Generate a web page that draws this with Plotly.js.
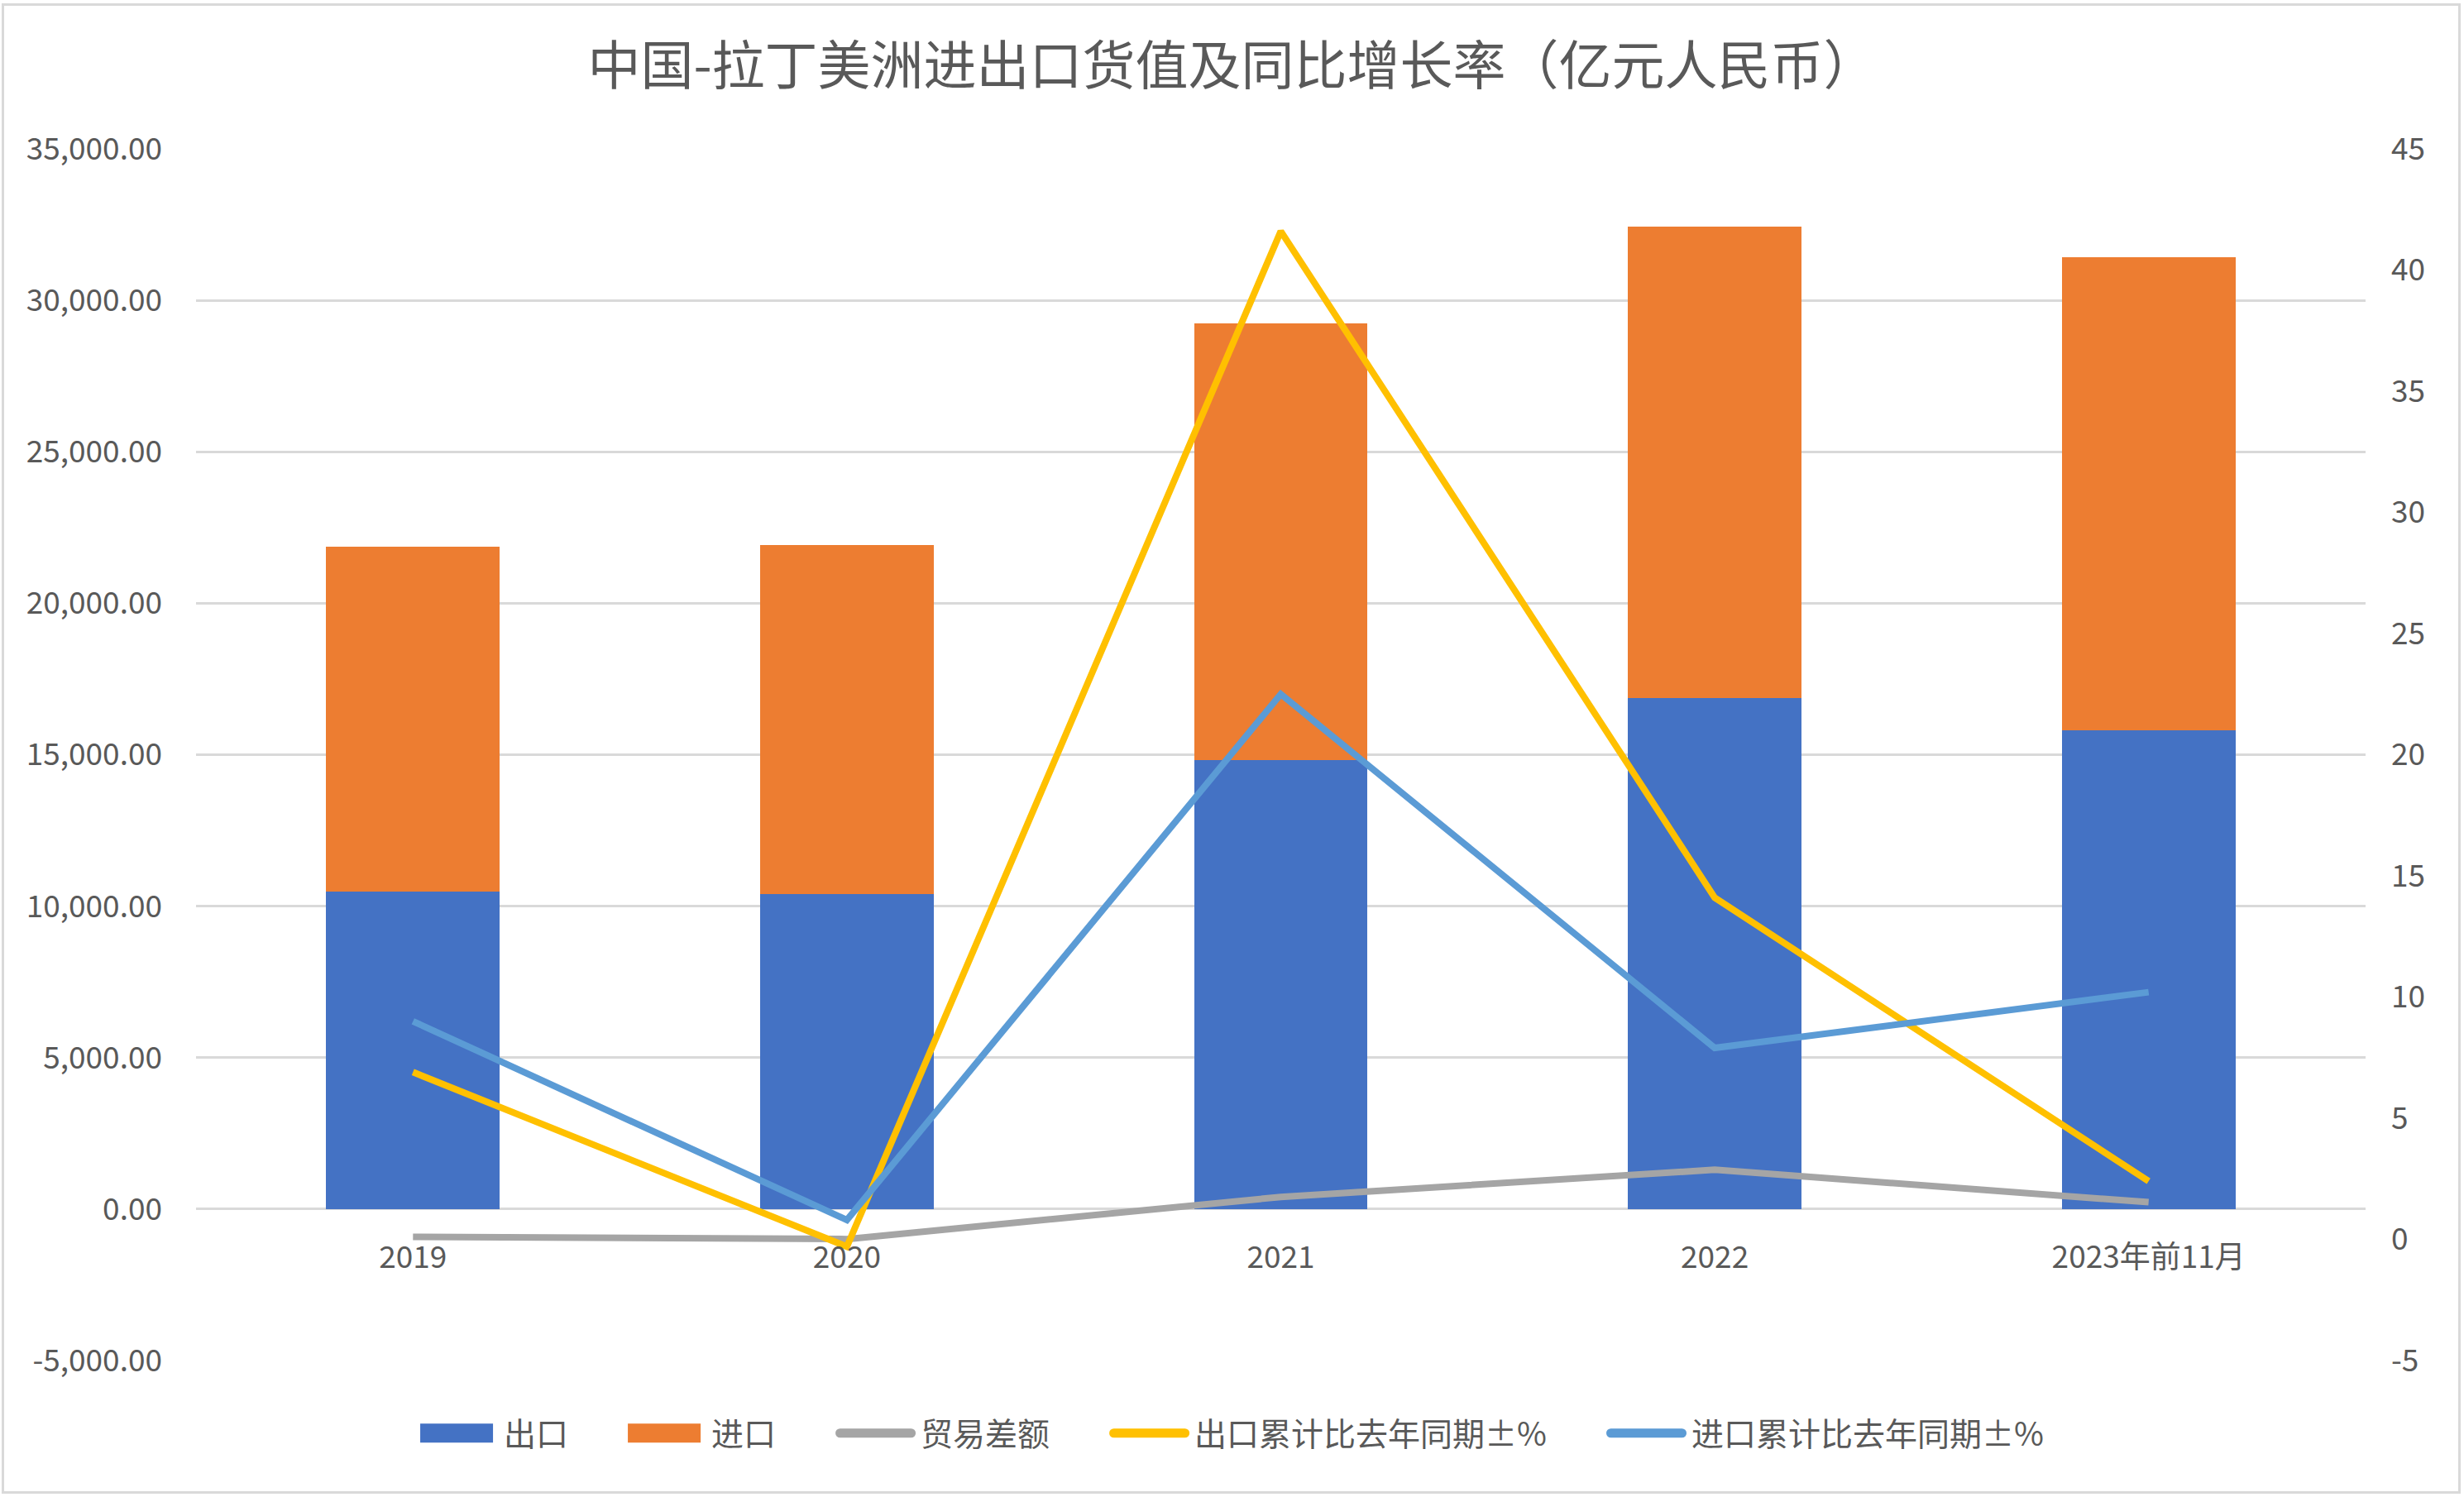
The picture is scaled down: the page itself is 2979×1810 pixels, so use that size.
<!DOCTYPE html>
<html>
<head>
<meta charset="utf-8">
<script src="https://cdn.plot.ly/plotly-3.0.1.min.js"></script>
<style>
  html, body { margin: 0; padding: 0; background: #ffffff; }
  #wrap { position: relative; width: 2979px; height: 1810px; }
  #chart { width: 2979px; height: 1810px; }
  #frame { position: absolute; left: 2px; top: 4px; right: 4px; bottom: 4px; border: 3px solid #d9d9d9; pointer-events: none; }
</style>
</head>
<body>
<div id="wrap"><div id="chart"></div><div id="frame"></div></div>
<script>
// Categories
const categories = ['2019', '2020', '2021', '2022', '2023年前11月'];
// Values (亿元人民币)
const exportsVal = [10478, 10413, 14828, 16879, 15797];
const importsVal = [11392, 11500, 14403, 15558, 15637];
const tradeBalance = [-915, -990, 400, 1297, 227];
// Growth rates (%)
const exportGrowth = [6.9, -0.3, 41.6, 14.1, 2.4];
const importGrowth = [9.0, 0.8, 22.5, 7.9, 10.2];
// Tick values
const leftTicks = [-5000, 0, 5000, 10000, 15000, 20000, 25000, 30000, 35000];
const rightTicks = [-5, 0, 5, 10, 15, 20, 25, 30, 35, 40, 45];
const leftTickText = leftTicks.map(v => v.toLocaleString('en-US', { minimumFractionDigits: 2, maximumFractionDigits: 2 }));
const rightTickText = rightTicks.map(v => String(v));

const FONT = '"Noto Sans CJK SC", "Noto Sans", sans-serif';
const TXT = '#595959';

const traces = [
  { type: 'bar', name: '出口', x: categories, y: exportsVal, marker: { color: '#4472C4' }, yaxis: 'y', hoverinfo: 'none' },
  { type: 'bar', name: '进口', x: categories, y: importsVal, marker: { color: '#ED7D31' }, yaxis: 'y', hoverinfo: 'none' },
  { type: 'scatter', mode: 'lines', name: '贸易差额', x: categories, y: tradeBalance, line: { color: '#A5A5A5', width: 8 }, yaxis: 'y', hoverinfo: 'none' },
  { type: 'scatter', mode: 'lines', name: '出口累计比去年同期±%', x: categories, y: exportGrowth, line: { color: '#FFC000', width: 8 }, yaxis: 'y2', hoverinfo: 'none' },
  { type: 'scatter', mode: 'lines', name: '进口累计比去年同期±%', x: categories, y: importGrowth, line: { color: '#5B9BD5', width: 8 }, yaxis: 'y2', hoverinfo: 'none' }
];

const layout = {
  width: 2979,
  height: 1810,
  paper_bgcolor: '#ffffff',
  plot_bgcolor: '#ffffff',
  font: { family: FONT, color: TXT, size: 37 },
  margin: { l: 237, r: 119, t: 180, b: 165 },
  title: {
    text: '中国-拉丁美洲进出口货值及同比增长率（亿元人民币）',
    font: { family: FONT, size: 64, color: TXT },
    x: 0.5, xref: 'container', xanchor: 'center',
    y: 0.956, yref: 'container', yanchor: 'middle'
  },
  barmode: 'stack',
  bargap: 0.6,
  showlegend: true,
  legend: {
    orientation: 'h',
    x: 0.5, xanchor: 'center',
    y: -0.06, yanchor: 'middle',
    font: { family: FONT, size: 39, color: TXT },
    traceorder: 'normal',
    itemwidth: 60
  },
  xaxis: {
    type: 'category',
    anchor: 'free',
    position: 0.125,
    showgrid: false,
    showline: false,
    zeroline: false,
    ticks: '',
    ticklabelstandoff: 33,
    tickfont: { family: FONT, size: 37, color: TXT }
  },
  yaxis: {
    range: [-5000, 35000],
    tickmode: 'array',
    tickvals: leftTicks,
    ticktext: leftTickText,
    showgrid: true,
    gridcolor: '#d9d9d9',
    gridwidth: 3,
    zeroline: false,
    showline: false,
    ticks: '',
    ticklabelstandoff: 40,
    tickfont: { family: FONT, size: 37, color: TXT }
  },
  yaxis2: {
    overlaying: 'y',
    side: 'right',
    range: [-5, 45],
    tickmode: 'array',
    tickvals: rightTicks,
    ticktext: rightTickText,
    showgrid: false,
    zeroline: false,
    showline: false,
    ticks: '',
    ticklabelstandoff: 30,
    tickfont: { family: FONT, size: 37, color: TXT }
  }
};

const gd = document.getElementById('chart');

function restyleLegend() {
  const NS = 'http://www.w3.org/2000/svg';
  const legend = gd.querySelector('g.legend');
  if (!legend) return;
  legend.querySelectorAll('[clip-path]').forEach(el => el.removeAttribute('clip-path'));
  const bg = legend.querySelector('rect.bg');
  if (bg) bg.style.display = 'none';
  const items = Array.from(legend.querySelectorAll('g.traces'));
  const BAR_W = 88, BAR_H = 23, LINE_W = 97, LINE_T = 11, SEP = 72;
  let x = 0;
  let anchorEl = null;
  items.forEach((g, i) => {
    let tr = null;
    if (g.__data__ && g.__data__[0] && g.__data__[0].trace) tr = g.__data__[0].trace;
    if (!tr) tr = traces[i];
    const isBar = tr.type === 'bar';
    const color = isBar ? tr.marker.color : tr.line.color;
    const layers = g.querySelector('g.layers');
    if (layers) layers.style.display = 'none';
    const text = g.querySelector('text.legendtext');
    let sw, gap;
    let el;
    if (isBar) {
      el = document.createElementNS(NS, 'rect');
      el.setAttribute('x', 0);
      el.setAttribute('y', -BAR_H / 2);
      el.setAttribute('width', BAR_W);
      el.setAttribute('height', BAR_H);
      el.setAttribute('fill', color);
      sw = BAR_W; gap = 13;
    } else {
      el = document.createElementNS(NS, 'line');
      el.setAttribute('x1', LINE_T / 2);
      el.setAttribute('x2', LINE_W - LINE_T / 2);
      el.setAttribute('y1', 0);
      el.setAttribute('y2', 0);
      el.setAttribute('stroke', color);
      el.setAttribute('stroke-width', LINE_T);
      el.setAttribute('stroke-linecap', 'round');
      sw = LINE_W; gap = 6;
    }
    g.insertBefore(el, g.firstChild);
    if (i === 0) anchorEl = el;
    text.setAttribute('x', sw + gap);
    const tw = text.getComputedTextLength();
    const m = /translate\(\s*([-\d.e]+)[\s,]*([-\d.e]+)?/.exec(g.getAttribute('transform') || '');
    const y = m && m[2] ? parseFloat(m[2]) : 0;
    g.setAttribute('transform', 'translate(' + x + ',' + y + ')');
    x += sw + gap + tw + SEP;
  });
  const total = x - SEP;
  const targetStart = 2979 / 2 - total / 2;
  if (anchorEl) {
    const left = anchorEl.getBoundingClientRect().left - gd.getBoundingClientRect().left;
    const delta = targetStart - left;
    const m = /translate\(\s*([-\d.e]+)[\s,]*([-\d.e]+)?/.exec(legend.getAttribute('transform') || '');
    const lx = m ? parseFloat(m[1]) : 0;
    const ly = m && m[2] ? parseFloat(m[2]) : 0;
    legend.setAttribute('transform', 'translate(' + (lx + delta) + ',' + ly + ')');
  }
}

Plotly.newPlot(gd, traces, layout, { staticPlot: true, displayModeBar: false }).then(restyleLegend);
</script>
</body>
</html>
